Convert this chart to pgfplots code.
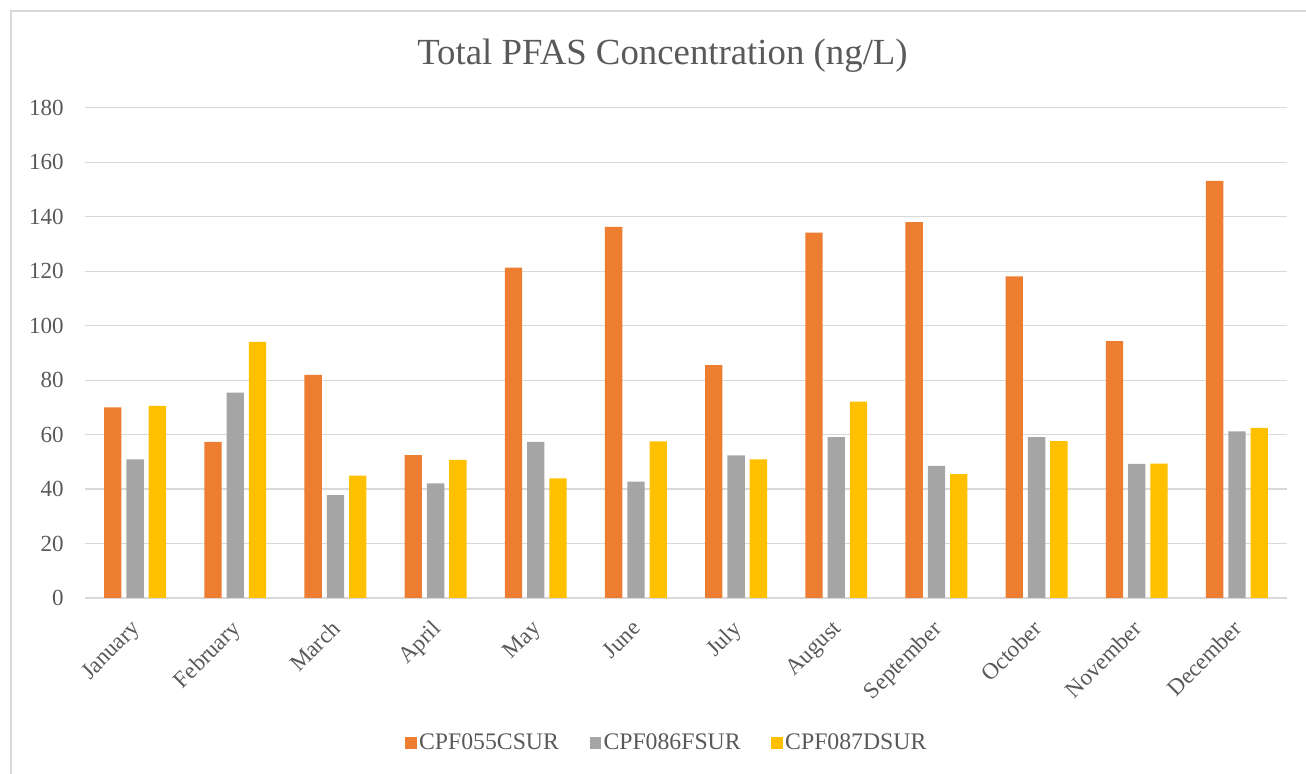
\documentclass[border=0pt]{standalone}
\usepackage{fontspec}
\setmainfont{Liberation Serif}
\usepackage{pgfplots}
\pgfplotsset{compat=1.18}
\definecolor{cO}{HTML}{ED7D31}
\definecolor{cG}{HTML}{A5A5A5}
\definecolor{cY}{HTML}{FFC000}
\definecolor{txt}{HTML}{595959}
\definecolor{grd}{HTML}{D9D9D9}
\pgfplotsset{sqlegend/.style={legend image code/.code={\fill[##1] (0pt,-4.3pt) rectangle (8.6pt,4.3pt);}}}
\begin{document}
\begin{tikzpicture}[x=0.75pt,y=0.75pt]
\path[use as bounding box] (0,0) rectangle (1306,774);
\draw[grd, line width=1pt] (11,0) -- (11,763) -- (1306,763);
\node[anchor=base, text=txt, font=\fontsize{27.6}{30}\selectfont, inner sep=0pt] at (662.5,709.7) {Total PFAS Concentration (ng/L)};
\begin{axis}[
 at={(63.75pt,132pt)}, anchor=south west,
 scale only axis, width=901.5pt, height=367.7pt,
 ymin=0, ymax=180, ytick={0,20,...,180},
 xmin=-0.5, xmax=11.5, xtick={0,...,11},
 xticklabels={January,February,March,April,May,June,July,August,September,October,November,December},
 axis line style={draw=none},
 major tick length=0pt,
 ymajorgrids, grid style={grd, line width=0.9pt},
 ybar, bar width=13pt,
 tick label style={text=txt, font=\fontsize{17.3}{20}\selectfont},
 /pgf/number format/assume math mode=true,
 yticklabel style={inner sep=0pt, xshift=-15.75pt},
 xticklabel style={xshift=-3.75pt, yshift=-11.25pt, rotate=45, anchor=north east, inner sep=3pt},
 legend columns=3,
 legend style={draw=none, fill=none, at={(axis description cs:0.4842,-0.2957)}, anchor=center,
   font=\fontsize{17.8}{20}\selectfont, text=txt, nodes={inner sep=1.9pt},
   /tikz/every even column/.append style={column sep=21pt}},
]
\addplot[fill=cO, draw=none, bar shift=-16.7pt, sqlegend] coordinates {(0,70.0) (1,57.3) (2,81.9) (3,52.5) (4,121.3) (5,136.3) (6,85.5) (7,134.1) (8,138.0) (9,118.1) (10,94.3) (11,153.1)};
\addplot[fill=cG, draw=none, bar shift=0pt, sqlegend] coordinates {(0,50.9) (1,75.4) (2,37.8) (3,42.1) (4,57.3) (5,42.7) (6,52.4) (7,59.1) (8,48.5) (9,59.1) (10,49.2) (11,61.2)};
\addplot[fill=cY, draw=none, bar shift=16.7pt, sqlegend] coordinates {(0,70.5) (1,94.0) (2,44.9) (3,50.7) (4,43.9) (5,57.5) (6,50.9) (7,72.1) (8,45.5) (9,57.6) (10,49.3) (11,62.5)};
\legend{CPF055CSUR,CPF086FSUR,CPF087DSUR}
\end{axis}
\end{tikzpicture}
\end{document}
